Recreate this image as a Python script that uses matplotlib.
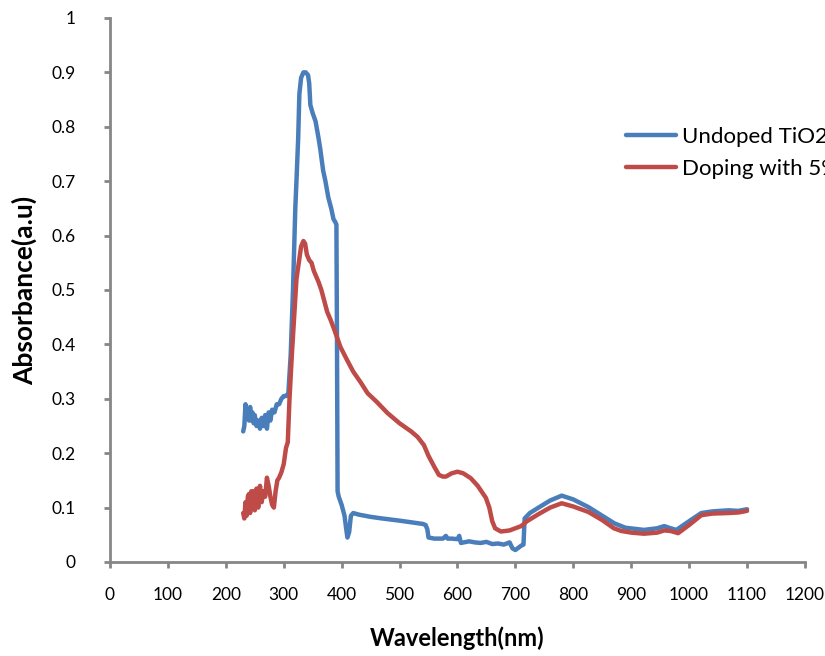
import matplotlib
matplotlib.use("Agg")
import matplotlib.pyplot as plt

# wavelengths (nm) and absorbance (a.u.)
wl_undoped = [230, 232, 234, 236, 238, 240, 242, 244, 246, 248, 250, 253, 256, 259, 262,
              265, 268, 271, 274, 277, 280, 284, 288, 292, 296, 300, 304, 308, 312, 316,
              320, 322, 325, 327, 330, 334, 338, 342, 344, 346, 350, 355, 360, 363, 368,
              372, 377, 382, 386, 389, 391, 392, 393, 395, 400, 405, 408, 410, 413, 416,
              420, 430, 450, 470, 500, 520, 540, 545, 548, 550, 560, 575, 580, 583, 590,
              600, 603, 606, 620, 630, 640, 650, 660, 670, 680, 690, 695, 700, 705, 710,
              714, 716, 725, 740, 760, 780, 800, 826, 850, 871, 890, 922, 945, 957, 968,
              978, 1000, 1021, 1040, 1068, 1085, 1100]
abs_undoped = [0.24, 0.25, 0.29, 0.27, 0.28, 0.26, 0.285, 0.26, 0.275, 0.255, 0.27, 0.25,
               0.26, 0.245, 0.265, 0.25, 0.27, 0.245, 0.275, 0.26, 0.28, 0.275, 0.29, 0.29,
               0.30, 0.305, 0.305, 0.31, 0.38, 0.50, 0.65, 0.70, 0.78, 0.86, 0.89, 0.90,
               0.90, 0.895, 0.88, 0.84, 0.825, 0.81, 0.78, 0.76, 0.72, 0.70, 0.67, 0.65,
               0.63, 0.625, 0.62, 0.40, 0.13, 0.12, 0.105, 0.085, 0.06, 0.045, 0.055, 0.085,
               0.09, 0.087, 0.083, 0.08, 0.076, 0.073, 0.07, 0.068, 0.06, 0.045, 0.043,
               0.043, 0.048, 0.043, 0.043, 0.042, 0.048, 0.035, 0.038, 0.036, 0.035, 0.037,
               0.033, 0.034, 0.032, 0.036, 0.025, 0.022, 0.026, 0.03, 0.032, 0.08, 0.09,
               0.100, 0.113, 0.122, 0.115, 0.101, 0.085, 0.071, 0.063, 0.059, 0.062, 0.066,
               0.062, 0.059, 0.075, 0.090, 0.093, 0.095, 0.094, 0.097]

wl_doped = [230, 232, 234, 236, 238, 240, 242, 244, 246, 248, 250, 253, 256, 259, 262,
            265, 268, 271, 274, 277, 280, 283, 286, 289, 292, 296, 300, 304, 307, 310,
            314, 318, 322, 326, 330, 334, 337, 340, 344, 348, 352, 356, 360, 365, 370,
            375, 381, 388, 398, 410, 420, 433, 445, 460, 479, 500, 520, 531, 542, 550,
            560, 568, 575, 580, 590, 600, 610, 623, 635, 649, 655, 660, 665, 675, 690,
            710, 720, 740, 760, 780, 800, 826, 850, 870, 883, 900, 922, 945, 957, 968,
            981, 1000, 1021, 1040, 1068, 1085, 1100]
abs_doped = [0.09, 0.08, 0.11, 0.085, 0.12, 0.125, 0.09, 0.13, 0.10, 0.13, 0.095, 0.135,
             0.10, 0.14, 0.11, 0.13, 0.12, 0.155, 0.14, 0.12, 0.105, 0.10, 0.13, 0.15,
             0.155, 0.165, 0.18, 0.21, 0.22, 0.30, 0.38, 0.45, 0.52, 0.55, 0.58, 0.59,
             0.585, 0.565, 0.555, 0.55, 0.535, 0.525, 0.515, 0.50, 0.48, 0.46, 0.445,
             0.425, 0.395, 0.37, 0.35, 0.33, 0.31, 0.295, 0.274, 0.255, 0.24, 0.23, 0.215,
             0.195, 0.175, 0.16, 0.157, 0.157, 0.163, 0.166, 0.163, 0.154, 0.14, 0.118,
             0.10, 0.075, 0.062, 0.056, 0.058, 0.066, 0.075, 0.088, 0.10, 0.108, 0.102,
             0.092, 0.077, 0.062, 0.057, 0.054, 0.052, 0.054, 0.058, 0.057, 0.053, 0.068,
             0.086, 0.089, 0.09, 0.091, 0.094]

x_ticks = [0, 100, 200, 300, 400, 500, 600, 700, 800, 900, 1000, 1100, 1200]
y_ticks = [0, 0.1, 0.2, 0.3, 0.4, 0.5, 0.6, 0.7, 0.8, 0.9, 1]
y_tick_labels = ["0", "0.1", "0.2", "0.3", "0.4", "0.5", "0.6", "0.7", "0.8", "0.9", "1"]

plt.rcParams["font.family"] = ["Lato", "DejaVu Sans"]
grey = "#868686"

fig = plt.figure(figsize=(8.25, 6.56), dpi=100)
ax = fig.add_axes([0.1333, 0.1433, 0.8424, 0.8293])

ax.plot(wl_undoped, abs_undoped, color="#4a7ebb", lw=3.2, label="Undoped TiO2",
        solid_joinstyle="round", solid_capstyle="round")
ax.plot(wl_doped, abs_doped, color="#be4b48", lw=3.2, label="Doping with 5%",
        solid_joinstyle="round", solid_capstyle="round")

ax.set_xlim(0, 1200)
ax.set_ylim(0, 1)
ax.set_xticks(x_ticks)
ax.set_yticks(y_ticks)
ax.set_yticklabels(y_tick_labels)

for side in ["top", "right"]:
    ax.spines[side].set_visible(False)
for side in ["left", "bottom"]:
    ax.spines[side].set_color(grey)
    ax.spines[side].set_linewidth(2)
ax.tick_params(colors=grey, width=2, length=4, direction="out", labelsize=12.5,
               labelcolor="black")
ax.tick_params(axis="x", pad=14)
ax.tick_params(axis="y", pad=21)

ax.set_xlabel("Wavelength(nm)", fontsize=17, fontweight="bold", labelpad=17)
ax.set_ylabel("Absorbance(a.u)", fontsize=19, fontweight="bold", labelpad=10)

# legend sits near the right edge; like the reference its text runs off the figure
leg = ax.legend(loc="upper left", bbox_to_anchor=(0.742, 0.80), frameon=False,
                fontsize=16, handlelength=2.25, handletextpad=0.27,
                labelspacing=0.55, borderaxespad=0, borderpad=0)

fig.savefig("out.png", dpi=100)
